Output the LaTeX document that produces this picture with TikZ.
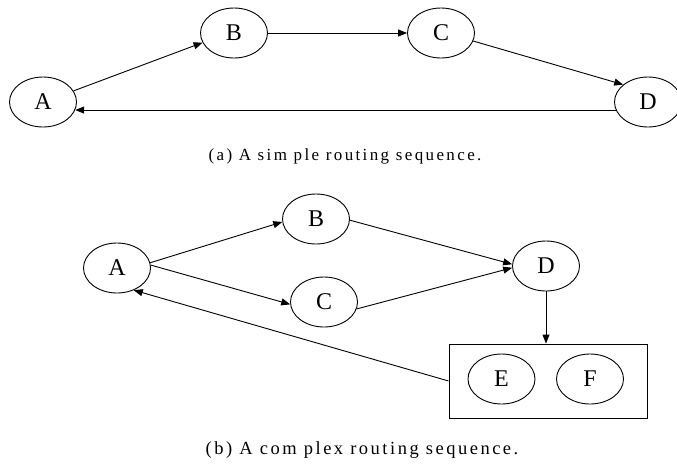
\documentclass[tikz,border=0pt]{standalone}
\usepackage{fontspec}
\setmainfont{Liberation Serif}
\usetikzlibrary{shapes.geometric,arrows.meta}
\begin{document}
\begin{tikzpicture}[x=1pt,y=-1pt,
  state/.style={ellipse,draw,line width=0.9pt,minimum width=67pt,minimum height=50pt,inner sep=0pt,font=\fontsize{24}{26}\selectfont},
  link/.style={line width=0.9pt,-{Triangle[length=9pt,width=7pt]}},
  frame/.style={draw,line width=0.9pt,minimum width=198pt,minimum height=74pt,inner sep=0pt},
  capa/.style={font=\fontsize{17}{19}\selectfont\addfontfeature{LetterSpace=14}},
  capb/.style={font=\fontsize{18.5}{20}\selectfont\addfontfeature{LetterSpace=13.5}}]
\useasboundingbox (0,0) rectangle (677,464);
% (a)
\node[state] (a1) at (43,102) {A};
\node[state] (b1) at (234,33) {B};
\node[state] (c1) at (441,33) {C};
\node[state] (d1) at (648,102) {D};
\draw[link] (a1.20) -- (b1.197);
\draw[link] (b1.east) -- (c1.west);
\draw[link] (c1.-14) -- (d1.145);
\draw[link] (d1.194) -- (a1.-14);
\node[capa] (capa) at (345,156) {(a) A sim ple routing sequence.};
% (b)
\node[frame] (box) at (548,381) {};
\node[state] (a2) at (117,268) {A};
\node[state] (b2) at (316,219) {B};
\node[state] (c2) at (324,302) {C};
\node[state] (d2) at (546,266) {D};
\node[state] (e2) at (501.5,379) {E};
\node[state] (f2) at (590,379) {F};
\draw[link] (a2.9) -- (b2.185);
\draw[link] (a2.5) -- (c2.184);
\draw[link] (b2.-2) -- (d2.177);
\draw[link] (c2.-12) -- (d2.183);
\draw[link] (d2.south) -- (d2.south |- box.north);
\draw[link] (box.west) -- (a2.-53);
\node[capb] (capb) at (362,450) {(b) A com plex routing sequence.};
\end{tikzpicture}
\end{document}
